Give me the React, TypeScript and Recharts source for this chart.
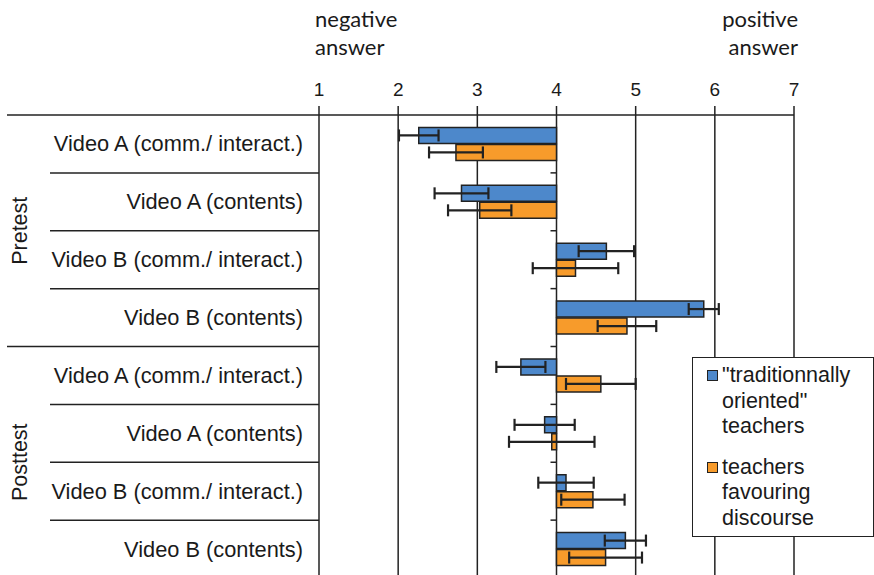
import React from 'react';
import { BarChart, Bar, XAxis, YAxis, CartesianGrid, ErrorBar, Legend } from 'recharts';

// ---------- data ----------
const categories = [
  'Video A (comm./ interact.)',
  'Video A (contents)',
  'Video B (comm./ interact.)',
  'Video B (contents)',
  'Video A (comm./ interact.)',
  'Video A (contents)',
  'Video B (comm./ interact.)',
  'Video B (contents)',
];
const phases = ['Pretest', 'Posttest'];
const scaleTicks = [1, 2, 3, 4, 5, 6, 7];
const negativeLabel = ['negative', 'answer'];
const positiveLabel = ['positive', 'answer'];
const neutralPoint = 4;
const seriesNames = ['"traditionnally oriented" teachers', 'teachers favouring discourse'];
const traditionalMeans = [2.26, 2.8, 4.63, 5.86, 3.55, 3.85, 4.12, 4.87];
const traditionalErrors = [0.25, 0.34, 0.35, 0.19, 0.31, 0.38, 0.35, 0.26];
const discourseMeans = [2.73, 3.03, 4.24, 4.89, 4.56, 3.94, 4.46, 4.62];
const discourseErrors = [0.34, 0.4, 0.54, 0.37, 0.44, 0.54, 0.4, 0.46];

const data = categories.map((name, i) => ({
  name,
  trad: [neutralPoint, traditionalMeans[i]],
  tradErr: traditionalErrors[i],
  disc: [neutralPoint, discourseMeans[i]],
  discErr: discourseErrors[i],
}));

// ---------- layout ----------
const W = 874;
const H = 578;
const PLOT_LEFT = 319;
const PLOT_RIGHT = 794;
const PLOT_TOP = 115;
const BAND = (H - PLOT_TOP) / categories.length;
const X_NEUTRAL =
  PLOT_LEFT +
  ((neutralPoint - scaleTicks[0]) / (scaleTicks[scaleTicks.length - 1] - scaleTicks[0])) *
    (PLOT_RIGHT - PLOT_LEFT);

const SANS = '"Liberation Sans", Arial, sans-serif';
const TOP_FONT = 'Lato, "Open Sans", sans-serif';
const INK = '#222222';
const BLUE = '#4D88CB';
const ORANGE = '#F79B2B';

const CategoryTick = (props: any) => {
  const { y, payload, index } = props;
  const half = BAND / 2;
  const last = categories.length - 1;
  const groupBoundary = categories.length / phases.length - 1;
  return (
    <g>
      {index === 0 && (
        <line x1={7} x2={PLOT_LEFT} y1={y - half} y2={y - half} stroke={INK} strokeWidth={1.5} />
      )}
      {index < last && (
        <line
          x1={index === groupBoundary ? 7 : 50}
          x2={PLOT_LEFT}
          y1={y + half}
          y2={y + half}
          stroke={INK}
          strokeWidth={1.5}
        />
      )}
      {index < last && (
        <line x1={X_NEUTRAL - 6} x2={X_NEUTRAL} y1={y + half} y2={y + half} stroke={INK} strokeWidth={1.5} />
      )}
      <text
        x={303}
        y={y}
        textAnchor="end"
        dominantBaseline="central"
        fontFamily={SANS}
        fontSize={21.8}
        fill="#1a1a1a"
      >
        {payload.value}
      </text>
      {(index === 1 || index === 5) && (
        <text
          x={20}
          y={y + half}
          transform={`rotate(-90 20 ${y + half})`}
          textAnchor="middle"
          dominantBaseline="central"
          fontFamily={SANS}
          fontSize={21.5}
          fill="#1a1a1a"
        >
          {phases[index === 1 ? 0 : 1]}
        </text>
      )}
    </g>
  );
};

const ScaleTick = (props: any) => {
  const { x, y, payload } = props;
  const first = payload.value === scaleTicks[0];
  const lastT = payload.value === scaleTicks[scaleTicks.length - 1];
  return (
    <g>
      <text x={x} y={y - 4} textAnchor="middle" fontFamily={SANS} fontSize={19} fill="#1a1a1a">
        {payload.value}
      </text>
      {first && (
        <text x={x - 4} textAnchor="start" fontFamily={TOP_FONT} fontSize={22} fill="#1a1a1a">
          <tspan x={x - 4} y={27}>{negativeLabel[0]}</tspan>
          <tspan x={x - 4} y={55}>{negativeLabel[1]}</tspan>
        </text>
      )}
      {lastT && (
        <text x={x + 4} textAnchor="end" fontFamily={TOP_FONT} fontSize={22} fill="#1a1a1a">
          <tspan x={x + 4} y={27}>{positiveLabel[0]}</tspan>
          <tspan x={x + 4} y={55}>{positiveLabel[1]}</tspan>
        </text>
      )}
    </g>
  );
};

const LegendBox = (props: any) => {
  const { payload } = props;
  return (
    <div
      style={{
        border: `1.5px solid ${INK}`,
        background: '#fff',
        width: 182,
        height: 180,
        boxSizing: 'border-box',
        padding: '5px 2px 0 14px',
        fontFamily: SANS,
        fontSize: 21.5,
        lineHeight: '25.5px',
        color: '#1a1a1a',
        textAlign: 'left',
      }}
    >
      {(payload || []).map((entry: any, i: number) => (
        <div key={i} style={{ display: 'flex', alignItems: 'flex-start', marginTop: i ? 15 : 0 }}>
          <span
            style={{
              display: 'inline-block',
              width: 9,
              height: 9,
              background: entry.color,
              border: `1.5px solid ${INK}`,
              marginTop: 7,
              marginRight: 4,
              flex: 'none',
            }}
          />
          <span style={{ width: 146 }}>{entry.value}</span>
        </div>
      ))}
    </div>
  );
};

export default function App() {
  return (
    <div
      style={{
        position: 'absolute',
        left: 0,
        top: 0,
        width: W,
        height: 575,
        overflow: 'hidden',
        background: '#fff',
      }}
    >
      <BarChart
        width={W}
        height={H}
        data={data}
        layout="vertical"
        margin={{ top: 0, right: W - PLOT_RIGHT, bottom: 0, left: 0 }}
        barCategoryGap="21.5%"
        barGap={1}
      >
        <CartesianGrid horizontal={false} vertical stroke={INK} strokeWidth={1.5} />
        <XAxis
          type="number"
          orientation="top"
          domain={[scaleTicks[0], scaleTicks[scaleTicks.length - 1]]}
          ticks={scaleTicks}
          allowDataOverflow
          height={PLOT_TOP}
          axisLine={{ stroke: INK, strokeWidth: 1.5 }}
          tickLine={{ stroke: INK, strokeWidth: 1.5 }}
          tickSize={9}
          tickMargin={6}
          tick={<ScaleTick />}
        />
        <YAxis
          type="category"
          dataKey="name"
          width={PLOT_LEFT}
          axisLine={false}
          tickLine={false}
          interval={0}
          tick={<CategoryTick />}
        />
        <Legend
          layout="vertical"
          align="center"
          verticalAlign="middle"
          wrapperStyle={{ left: 692, top: 357, width: 182, height: 180 }}
          content={<LegendBox />}
        />
        <Bar
          dataKey="trad"
          name={seriesNames[0]}
          fill={BLUE}
          stroke={INK}
          strokeWidth={1.5}
          isAnimationActive={false}
        >
          <ErrorBar dataKey="tradErr" direction="x" width={6} stroke={INK} strokeWidth={2.2} />
        </Bar>
        <Bar
          dataKey="disc"
          name={seriesNames[1]}
          fill={ORANGE}
          stroke={INK}
          strokeWidth={1.5}
          isAnimationActive={false}
        >
          <ErrorBar dataKey="discErr" direction="x" width={6} stroke={INK} strokeWidth={2.2} />
        </Bar>
      </BarChart>
    </div>
  );
}
